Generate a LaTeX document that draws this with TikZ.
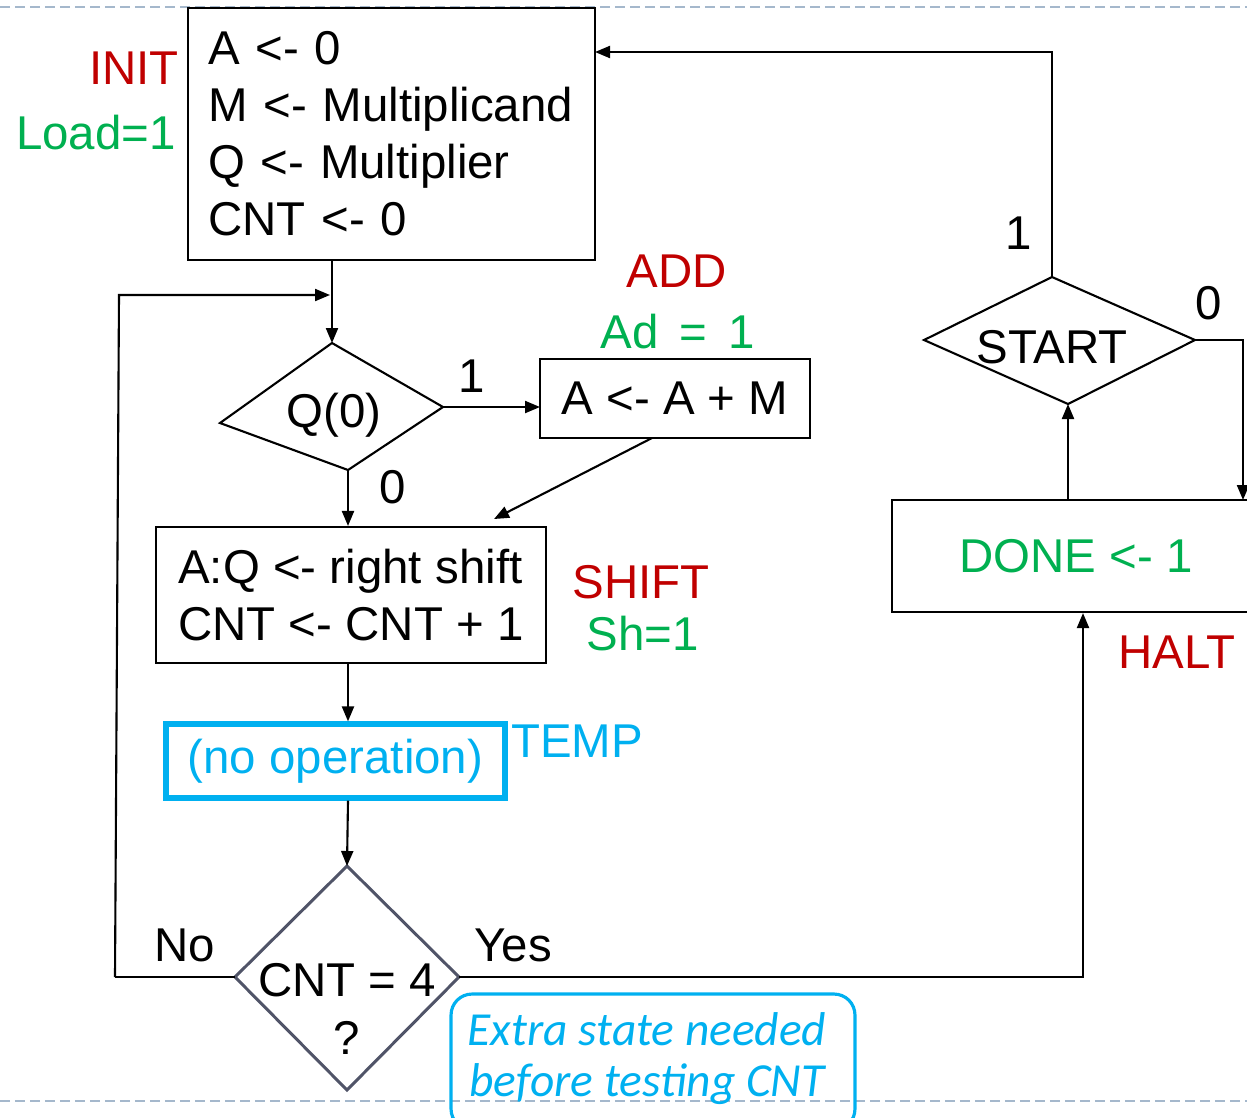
\documentclass[tikz,border=0pt]{standalone}
\usepackage{fontspec}
\setmainfont{Liberation Sans}
\newfontfamily\notefont{Carlito}
\usetikzlibrary{arrows.meta}
\definecolor{cred}{HTML}{C00000}
\definecolor{cgreen}{HTML}{00B050}
\definecolor{ccyan}{HTML}{00B0F0}
\definecolor{cdash}{HTML}{A5B8CC}
\definecolor{cdia}{HTML}{505468}
\tikzset{
  txt/.style={font=\fontsize{27}{32.4}\selectfont, inner sep=0pt},
  box/.style={draw=black, line width=1.2pt, txt, align=left},
  line/.style={draw=black, line width=1.2pt},
  arr/.style={line, -{Triangle[length=0.3cm,width=0.24cm]}},
  dia/.style={draw=black, line width=1.2pt, line join=miter},
  sep/.style={draw=cdash, line width=1.1pt, dash pattern=on 0.2cm off 0.1cm},
}
\begin{document}
\begin{tikzpicture}[x=0.02cm,y=-0.02cm]
\useasboundingbox (0,0) rectangle (1247,1117);
% slide separators
\draw[sep] (0,7) -- (1247,7);
\draw[sep] (0,1101) -- (1247,1101);

% INIT state
\node[box, inner xsep=0.4cm, text width=7.34cm, minimum height=5.04cm] (init) at (391.5,134)
  {A <- 0\\M <- Multiplicand\\Q <- Multiplier\\CNT <- 0};
\node[txt, text=cred, anchor=east] (initl) at (179,68) {INIT};
\node[txt, text=cgreen, anchor=east] (loadl) at (176,133) {Load=1};

% Q(0) decision
\coordinate (qT) at (332,343);
\coordinate (qL) at (220,423);
\coordinate (qR) at (443,407);
\coordinate (qB) at (348,470);
\draw[dia] (qT) -- (qR) -- (qB) -- (qL) -- cycle;
\node[txt] (q) at (334,415) {Q(0)};

% ADD state
\node[box, minimum width=5.4cm, minimum height=1.58cm] (add) at (675,398.5) {A <- A + M};
\node[txt, text=cred] (addl) at (677,271) {ADD};
\node[txt, text=cgreen] (adl) at (678,332) {Ad \,=\, 1};

% SHIFT state
\node[box, minimum width=7.8cm, minimum height=2.72cm] (shift) at (351,595)
  {A:Q <- right shift\\CNT <- CNT + 1};
\node[txt, text=cred] (shiftl) at (641,582) {SHIFT};
\node[txt, text=cgreen] (shl) at (643,634) {Sh=1};

% TEMP state
\node[draw=ccyan, line width=3pt, txt, text=ccyan, minimum width=6.78cm, minimum height=1.48cm] (temp) at (335.5,761) {(no operation)};
\node[txt, text=ccyan, anchor=west] (templ) at (511,741) {TEMP};

% CNT = 4 decision
\coordinate (cT) at (347,866);
\coordinate (cL) at (235,977);
\coordinate (cR) at (459,977);
\coordinate (cB) at (347,1090);
\draw[dia, draw=cdia, line width=1.7pt] (cT) -- (cR) -- (cB) -- (cL) -- cycle;
\node[txt] (cnt) at (347,980) {CNT = 4};
\node[txt] (cntq) at (347,1038) {?};
\node[txt] (nol) at (185,945) {No};
\node[txt] (yesl) at (513,945) {Yes};

% DONE / HALT state
\node[box, minimum width=7.36cm, minimum height=2.24cm, text=cgreen] (done) at (1076,556) {DONE <- 1};
\node[txt, text=cred] (haltl) at (1177,652) {HALT};

% START decision
\coordinate (sT) at (1052,277);
\coordinate (sL) at (924,340);
\coordinate (sR) at (1195,340);
\coordinate (sB) at (1068,404);
\draw[dia] (sT) -- (sR) -- (sB) -- (sL) -- cycle;
\node[txt] (start) at (1052,347) {START};
\node[txt] (s1) at (1019,233) {1};
\node[txt] (s0) at (1209,303) {0};

% note
\node[draw=ccyan, line width=1.8pt, rounded corners=0.42cm, minimum width=8.08cm, minimum height=2.72cm] (notebox) at (653,1062) {};
\node[text=ccyan, inner sep=0pt, align=center, font=\notefont\itshape\fontsize{27}{29}\selectfont] (note) at (647,1059) {Extra state needed\\before testing CNT};

% connectors
\coordinate (initin) at (595,52);
\coordinate (sRc) at (1243,340);
\coordinate (donein) at (1243,500);
\coordinate (loopb) at (115,977);
\coordinate (loopt) at (119,295);
\coordinate (loopin) at (330,295);
\coordinate (yesc) at (1083,977);
\coordinate (shin) at (494,519);
\coordinate (addout) at (652,438);
\coordinate (q1) at (540,407);

\draw[arr] (sT) |- (initin);
\draw[arr] (init.south -| qT) -- (qT);
\draw[arr] (loopb) -- (loopt) -- (loopin);
\draw[line] (cL) -- (loopb);
\draw[arr] (qR) -- (q1);
\node[txt] (q1l) at (472,376) {1};
\draw[arr] (qB) -- (qB |- shift.north);
\node[txt] (q0l) at (393,487) {0};
\draw[arr] (addout) -- (shin);
\draw[arr] (shift.south -| qB) -- (qB |- temp.north);
\draw[arr] (qB |- temp.south) -- (cT);
\draw[arr] (cR) -- (yesc) -- (yesc |- done.south);
\draw[arr] (done.north -| sB) -- (sB);
\draw[arr] (sR) -- (sRc) -- (donein);
\end{tikzpicture}
\end{document}
